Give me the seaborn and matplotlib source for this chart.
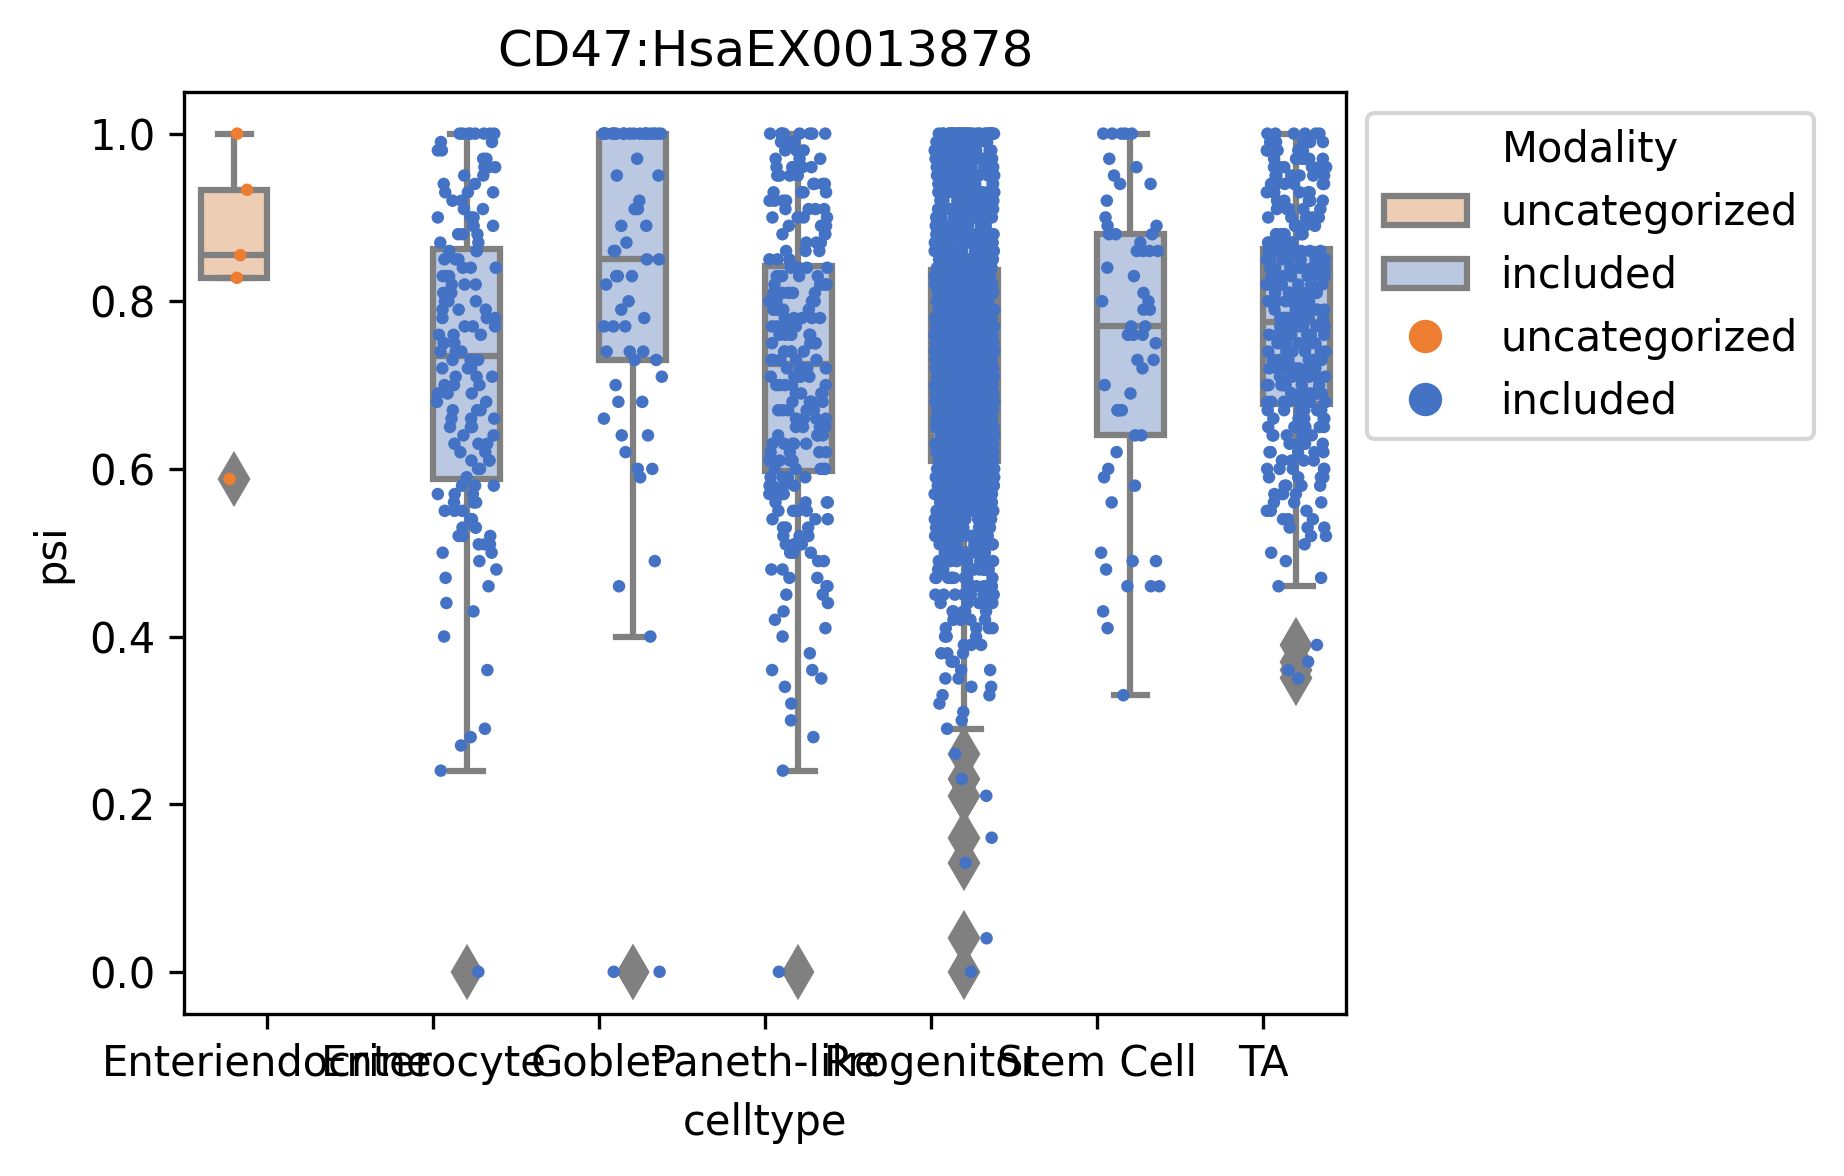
import numpy as np
import pandas as pd
import matplotlib.pyplot as plt
import seaborn as sns
from matplotlib.patches import Patch
from matplotlib.lines import Line2D

celltypes = ['Enteriendocrine', 'Enterocyte', 'Goblet', 'Paneth-like',
             'Progenitor', 'Stem Cell', 'TA']
modalities = ['uncategorized', 'included']
colors = {'uncategorized': '#ED7D31', 'included': '#4472C4'}

psi_levels = np.round(np.linspace(1, 0, 101), 2)
zeros = [0] * 10

enteriendocrine_psi = [1.0, 0.933, 0.855, 0.828, 0.588]

enterocyte_n = ([8, 2, 2, 2, 3, 2, 2, 3, 2, 2] + [3, 3, 3, 2, 3, 3, 3, 3, 3, 3]
                + [3, 3, 3, 3, 3, 3, 3, 3, 3, 3] + [3, 3, 2, 3, 3, 3, 2, 3, 2, 3]
                + [2, 1, 3, 3, 3, 3, 3, 3, 3, 3] + [2, 1, 1, 1, 1, 0, 1, 1, 0, 0]
                + [1, 0, 0, 0, 1, 0, 0, 0, 0, 0] + [0, 1, 1, 1, 0, 0, 1, 0, 0, 0]
                + zeros + zeros + [1])

goblet_n = ([21, 0, 0, 1, 0, 2, 0, 0, 1, 2] + [0, 2, 0, 1, 2, 2, 0, 3, 1, 0]
            + [1, 1, 1, 3, 0, 0, 3, 2, 0, 1] + [1, 0, 2, 0, 1, 0, 2, 0, 1, 0]
            + [2, 1, 0, 0, 0, 0, 0, 0, 0, 0] + [0, 1, 0, 0, 1, 0, 0, 0, 0, 0]
            + [1, 0, 0, 0, 0, 0, 0, 0, 0, 0] + zeros + zeros + zeros + [2])

paneth_n = ([8, 3, 3, 3, 4, 4, 4, 4, 4, 4] + [4, 3, 3, 3, 3, 3, 5, 5, 5, 5]
            + [5, 5, 5, 5, 5, 5, 5, 5, 5, 5] + [5, 5, 5, 5, 4, 4, 4, 5, 4, 4]
            + [5, 4, 4, 4, 4, 4, 3, 3, 3, 3] + [3, 2, 2, 2, 2, 2, 1, 1, 1, 1]
            + [1, 0, 1, 0, 2, 1, 1, 0, 1, 0] + [1, 0, 1, 0, 0, 0, 1, 0, 0, 0]
            + zeros + zeros + [1])

progenitor_n = ([40, 18, 18, 18, 18, 18, 18, 19, 19, 19]
                + [21, 21, 21, 21, 21, 21, 21, 32, 32, 32]
                + [32, 32, 32, 32, 32, 32, 32, 30, 32, 32]
                + [32, 32, 32, 32, 32, 32, 32, 32, 30, 28]
                + [28, 27, 26, 25, 24, 22, 20, 18, 16, 14]
                + [12, 11, 10, 9, 8, 7, 6, 5, 4, 4]
                + [3, 3, 3, 2, 2, 2, 2, 2, 1, 1]
                + [1, 1, 0, 0, 1, 0, 0, 1, 0, 1]
                + [0, 0, 0, 0, 1, 0, 0, 1, 0, 0]
                + [0, 0, 0, 0, 0, 0, 1, 0, 0, 0] + [1])

stem_n = ([5, 0, 0, 1, 1, 1, 2, 0, 1, 0] + [1, 2, 3, 1, 4, 0, 1, 1, 0, 1]
          + [2, 2, 0, 2, 3, 1, 0, 2, 1, 0] + [1, 1, 0, 4, 0, 0, 2, 0, 1, 0]
          + [1, 1, 1, 0, 1, 0, 0, 0, 0, 0] + [1, 2, 1, 0, 3, 0, 0, 1, 0, 1]
          + [0, 0, 0, 0, 0, 0, 0, 1, 0, 0] + zeros + zeros + zeros + [0])

ta_n = ([6, 5, 5, 6, 6, 6, 6, 6, 6, 6] + [6, 6, 6, 6, 9, 9, 9, 9, 9, 9]
        + [9, 9, 10, 8, 8, 8, 8, 8, 8, 8] + [8, 9, 9, 7, 7, 6, 6, 6, 5, 5]
        + [5, 4, 4, 4, 3, 3, 3, 3, 2, 1] + [1, 1, 0, 1, 1, 0, 0, 0, 0, 0]
        + [0, 1, 0, 1, 1, 1, 0, 0, 0, 0] + zeros + zeros + zeros + [0])

frames = [pd.DataFrame({'celltype': 'Enteriendocrine', 'psi': enteriendocrine_psi,
                        'Modality': 'uncategorized'})]
for ct, counts in [('Enterocyte', enterocyte_n), ('Goblet', goblet_n),
                   ('Paneth-like', paneth_n), ('Progenitor', progenitor_n),
                   ('Stem Cell', stem_n), ('TA', ta_n)]:
    frames.append(pd.DataFrame({'celltype': ct,
                                'psi': np.repeat(psi_levels, counts),
                                'Modality': 'included'}))
df = pd.concat(frames, ignore_index=True)

np.random.seed(0)
fig, ax = plt.subplots(figsize=(6.147, 3.92), dpi=300)
fig.subplots_adjust(left=0.100, right=0.730, top=0.922, bottom=0.138)

sns.boxplot(data=df, x='celltype', y='psi', hue='Modality', order=celltypes,
            hue_order=modalities, palette=colors, dodge=True, linecolor='gray',
            linewidth=1.5,
            flierprops=dict(marker='d', markerfacecolor='gray',
                            markeredgecolor='gray', markersize=8),
            legend=False, ax=ax)
# lighter box fill, plain gray edges and whiskers
for p in ax.patches:
    fc = p.get_facecolor()
    p.set_facecolor((fc[0], fc[1], fc[2], 0.4))
    p.set_edgecolor('#808080')
for ln in ax.lines:
    ln.set_color('#808080')
    ln.set_markerfacecolor('#808080')
    ln.set_markeredgecolor('#808080')

sns.stripplot(data=df, x='celltype', y='psi', hue='Modality', order=celltypes,
              hue_order=modalities, palette=colors, dodge=True, jitter=0.36,
              size=3, legend=False, ax=ax)

ax.set_title('CD47:HsaEX0013878')
ax.set_xlabel('celltype')
ax.set_ylabel('psi')

handles = []
for m in modalities:
    c = sns.desaturate(colors[m], 0.75)
    handles.append(Patch(facecolor=(*plt.matplotlib.colors.to_rgb(c), 0.4),
                         edgecolor='#808080', linewidth=1.5, label=m))
for m in modalities:
    handles.append(Line2D([], [], marker='o', linestyle='', color=colors[m],
                          markersize=7, label=m))
ax.legend(handles=handles, title='Modality', loc='upper left',
          bbox_to_anchor=(1, 1))

fig.savefig('out.png', dpi=300)
